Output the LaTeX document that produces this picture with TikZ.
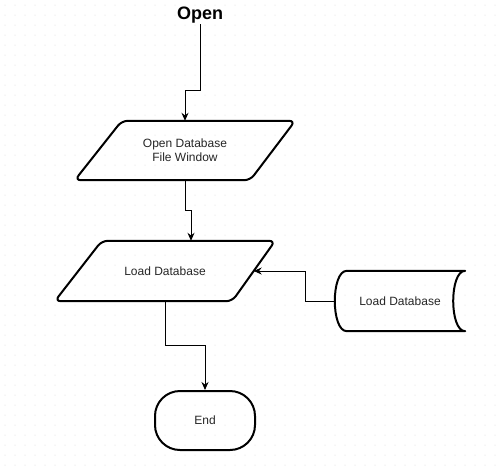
\documentclass[tikz,border=0pt]{standalone}
\usepackage{fontspec}
\setmainfont{Liberation Sans}
\usetikzlibrary{calc,arrows.meta}
\begin{document}
\begin{tikzpicture}[x=1pt,y=-1pt,
  shapeline/.style={draw=black,line width=2pt,line join=round},
  conn/.style={draw=black,line width=1pt,-{Stealth[length=8pt,width=7pt]}},
  lbl/.style={font=\fontsize{12}{14}\selectfont,text=black!85,align=center,inner sep=0pt},
]
\fill[white] (0,0) rectangle (501,467);
\useasboundingbox (0,0) rectangle (501,467);
\foreach \i in {0,...,49} \foreach \j in {0,...,46} \fill[black!16] (5+10*\i,5+10*\j) circle (0.5);

\node[font=\fontsize{18}{20}\selectfont\bfseries, inner sep=1pt] (open) at (200,15) {Open};

\node[lbl, minimum width=220pt, minimum height=59pt] (p1) at (185,150.5) {Open Database\\File Window};
\draw[shapeline, rounded corners=6pt] (p1.south west) -- ($(p1.north west)+(47,0)$) -- (p1.north east) -- ($(p1.south east)+(-45,0)$) -- cycle;

\node[lbl, minimum width=220pt, minimum height=60pt] (p2) at (165,271) {Load Database};
\draw[shapeline, rounded corners=6pt] (p2.south west) -- ($(p2.north west)+(47,0)$) -- (p2.north east) -- ($(p2.south east)+(-43,0)$) -- cycle;

\node[lbl, minimum width=130pt, minimum height=60pt] (db) at (400,301) {Load Database};
\draw[shapeline] ($(db.north west)+(12,0)$) -- (db.north east)
  .. controls ($(db.north east)+(-16,0)$) and ($(db.south east)+(-16,0)$) .. (db.south east)
  -- ($(db.south west)+(12,0)$)
  .. controls ($(db.south west)+(-4,0)$) and ($(db.north west)+(-4,0)$) .. ($(db.north west)+(12,0)$) -- cycle;

\node[lbl, draw, line width=2pt, rounded corners=25pt, minimum width=100pt, minimum height=59pt] (end) at (205,420.5) {End};

\coordinate (p2in) at ($(p2.north)+(26,0)$);
\coordinate (p2r) at ($(p2.east)+(-21.5,0)$);

\draw[conn] (open.south) |- ($(p1.north)+(0,-30)$) -- (p1.north);
\draw[conn] (p1.south) |- ($(p2in)+(0,-30)$) -- (p2in);
\draw[conn] (db.west) -- ++(-29,0) |- (p2r);
\draw[conn] (p2.south) |- ($(end.north)+(0,-45)$) -- (end.north);
\end{tikzpicture}
\end{document}
